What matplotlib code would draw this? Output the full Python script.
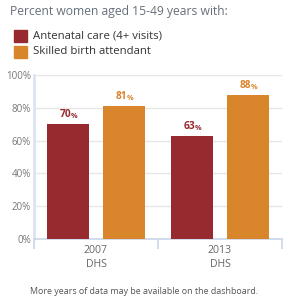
import numpy as np
from matplotlib import pyplot as plt

# data
surveys = ["2007\nDHS", "2013\nDHS"]
series_names = ["Antenatal care (4+ visits)", "Skilled birth attendant"]
antenatal = [70, 63]
skilled = [81, 88]
series_colors = ["#962a2f", "#d9852b"]
yticks = [0, 20, 40, 60, 80, 100]

plt.rcParams['font.family'] = ['Open Sans', 'DejaVu Sans']

fig = plt.figure(figsize=(2.88, 2.97), dpi=100)
ax = fig.add_axes([34 / 288, 1 - 239 / 297, 248 / 288, 164 / 297])

x = np.arange(len(surveys))
bar_width = 0.335
offset = 0.225
for vals, col, sign in [(antenatal, series_colors[0], -1), (skilled, series_colors[1], 1)]:
    ax.bar(x + sign * offset, vals, width=bar_width, color=col, zorder=3)
    for xi, v in zip(x + sign * offset, vals):
        ax.annotate(f"{v}", (xi, v), xytext=(2, 3), textcoords="offset points",
                    ha="right", va="bottom", fontsize=7.3, fontweight="bold", color=col)
        ax.annotate("%", (xi, v), xytext=(2, 3), textcoords="offset points",
                    ha="left", va="bottom", fontsize=5.2, fontweight="bold", color=col)

ax.set_xlim(-0.5, 1.5)
ax.set_ylim(0, 100)
ax.set_yticks(yticks)
ax.set_yticklabels([f"{t}%" for t in yticks])
ax.set_xticks(x)
ax.set_xticklabels(surveys, linespacing=1.45)
ax.set_xticks([-0.5, 0.5, 1.5], minor=True)

ax.grid(axis="y", color="#e6e6e6", linewidth=1, zorder=0)
for s in ["top", "right"]:
    ax.spines[s].set_visible(False)
ax.spines["left"].set_color("#dce3f0")
ax.spines["left"].set_linewidth(2)
ax.spines["bottom"].set_color("#c9d5ea")
ax.spines["bottom"].set_linewidth(1.2)

ax.tick_params(axis="y", length=0, labelsize=7, colors="#777777", pad=2)
ax.tick_params(axis="x", which="major", length=0, labelsize=7.6, colors="#666666", pad=4)
ax.tick_params(axis="x", which="minor", length=7, width=1.2, color="#c9d5ea")

# header and legend
fig.text(10 / 288, 1 - 11 / 297, "Percent women aged 15-49 years with:",
         fontsize=8.7, color="#66707a", va="center", ha="left")
for i, (name, col) in enumerate(zip(series_names, series_colors)):
    ycen = 1 - (36 + i * 16) / 297
    fig.patches.append(plt.Rectangle((14 / 288, ycen - 6 / 297), 13 / 288, 12 / 297,
                                     transform=fig.transFigure, color=col, figure=fig))
    fig.text(33 / 288, ycen, name, fontsize=8.2, color="#333333", va="center", ha="left")

fig.text(0.5, 1 - 292 / 297, "More years of data may be available on the dashboard.",
         fontsize=6.4, color="#555555", va="center", ha="center")

plt.savefig("out.png", dpi=100)
